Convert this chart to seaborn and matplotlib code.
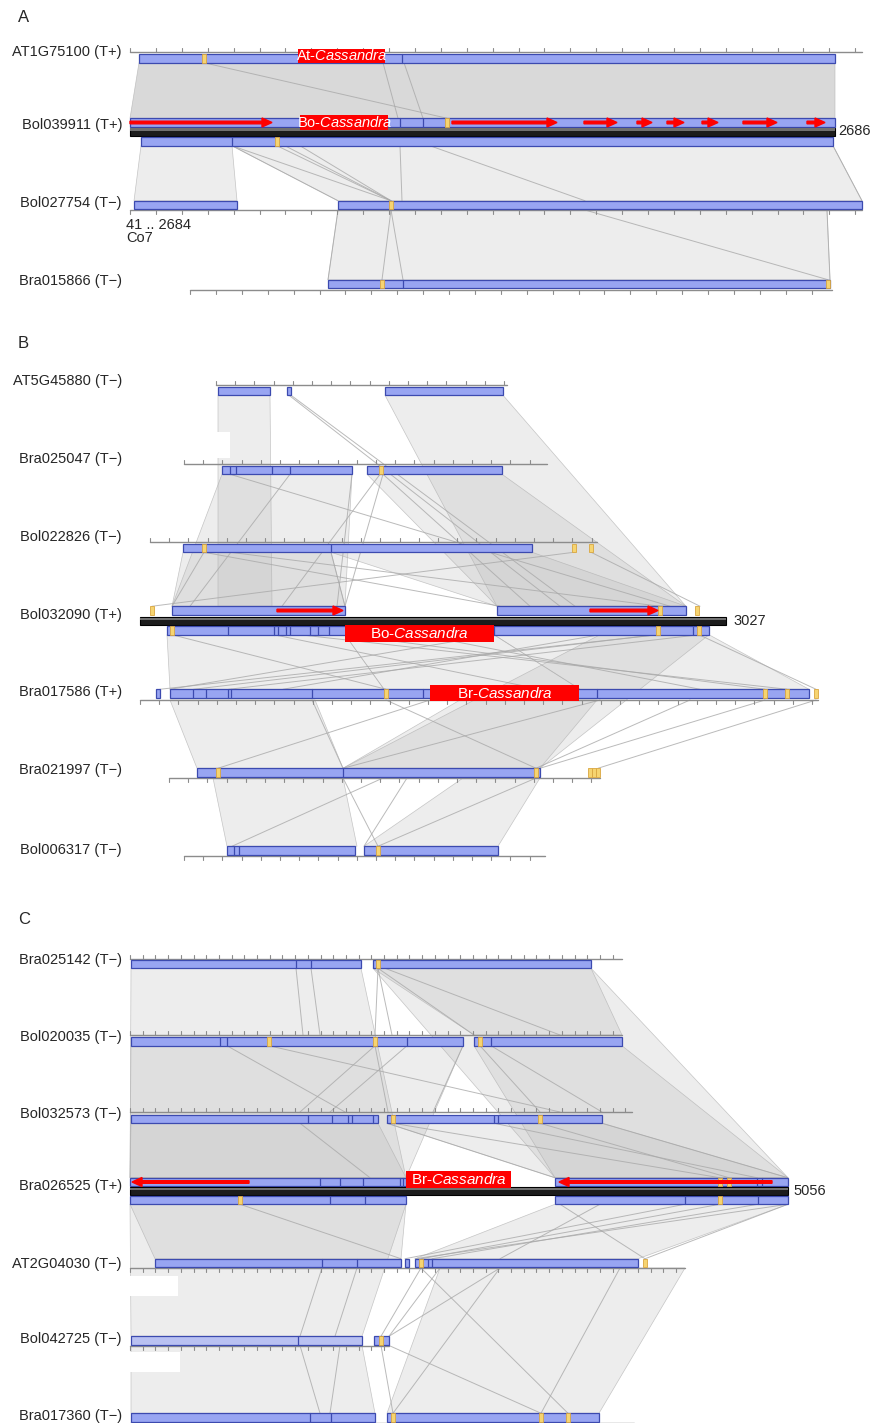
import matplotlib
matplotlib.use('Agg')
import matplotlib.pyplot as plt
from matplotlib.patches import Rectangle, Polygon
import seaborn as sns

sns.set_style('white')
plt.rcParams['font.family'] = ['Liberation Sans', 'DejaVu Sans']
plt.rcParams['mathtext.fontset'] = 'custom'
plt.rcParams['mathtext.rm'] = 'Liberation Sans'
plt.rcParams['mathtext.it'] = 'Liberation Sans:italic'

BAR = '#98a5f2'
EDGE = '#3c4aaf'
YEL = '#f6d470'
YEDGE = '#d9a640'
GRAY = '#b0b0b0'
BAR_H = 8.5

# ---------------- panel A ----------------
A_names = ['AT1G75100 (T+)', 'Bol039911 (T+)', 'Bol027754 (T\u2212)', 'Bra015866 (T\u2212)']
A_label_y = [52, 125, 203, 281]
A_bar_y = [58.5, 122.5, 205, 284]
A_rulers = [(130, 862, 52), None, (130, 862, 210), (190, 832, 290)]
A_bars = [[(139, 835)], [(130, 835)], [(134, 237), (338, 862)], [(328, 830)]]
A_dividers = [[402], [400, 423], [], [403]]
A_yellow = [[204], [447], [391], [382, 828]]
A_ref = 1
A_lower = (141.5, [(141, 833)], [232], [277])
A_black = (130, 835, 131.5)
A_arrows = [(130, 272), (452, 557), (584, 617), (637, 652), (667, 684), (702, 718), (743, 777), (807, 825)]
A_length = (838, 131, '2686')
A_tick = 25.9
A_boxes = [(298, 385, 49, 63, 'At-', 10.5), (300, 388, 115, 130, 'Bo-', 10.5)]
A_polys = [(0, 1, 139, 835, 130, 835, 4), (1, 2, 141, 232, 134, 237, 1), (1, 2, 232, 833, 338, 862, 1),
           (2, 3, 338, 827, 328, 830, 1)]
A_lines = [(0, 1, 204, 447), (0, 1, 383, 398), (0, 1, 404, 423), (1, 2, 232, 338), (1, 2, 232, 391),
           (1, 2, 277, 391), (1, 2, 285, 391), (1, 2, 300, 391), (1, 2, 400, 402), (1, 2, 430, 585),
           (1, 2, 833, 862), (2, 3, 391, 382), (2, 3, 391, 403), (2, 3, 585, 828), (2, 3, 827, 830),
           (2, 3, 338, 328)]
A_masks = []

# ---------------- panel B ----------------
B_names = ['AT5G45880 (T\u2212)', 'Bra025047 (T\u2212)', 'Bol022826 (T\u2212)', 'Bol032090 (T+)',
           'Bra017586 (T+)', 'Bra021997 (T\u2212)', 'Bol006317 (T\u2212)']
B_label_y = [381, 459, 537, 615, 692, 770, 850]
B_bar_y = [391, 470, 548, 610.5, 693.5, 772.5, 850.5]
B_rulers = [(216, 507, 385), (184, 547, 464), (150, 597, 542), None, (140, 818, 700), (169, 600, 778),
            (184, 545, 856)]
B_bars = [[(218, 270), (287, 291), (385, 503)], [(222, 352), (367, 502)], [(183, 532)],
          [(172, 345), (497, 686)], [(156, 160), (170, 809)], [(197, 540)], [(227, 355), (364, 498)]]
B_dividers = [[], [230, 236, 272, 290], [331], [], [193, 206, 228, 231, 312, 423, 597], [343], [234, 239]]
B_yellow = [[], [381], [204, 574, 591], [152, 660, 697], [386, 765, 787, 816], [218, 536, 590, 594, 598],
            [378]]
B_ref = 3
B_lower = (630.5, [(167, 709)], [228, 274, 278, 286, 290, 310, 318, 329, 494, 693], [172, 658, 699])
B_black = (140, 726, 621)
B_arrows = [(277, 343), (590, 658)]
B_length = (733, 621, '3027')
B_tick = 19.2
B_boxes = [(345, 494, 625, 642, 'Bo-', 11), (430, 579, 685, 701, 'Br-', 11)]
B_polys = [(0, 3, 218, 270, 218, 272, 1), (0, 3, 385, 503, 497, 686, 1), (1, 3, 222, 352, 172, 345, 1),
           (1, 3, 367, 502, 497, 686, 1), (2, 3, 183, 331, 172, 345, 1), (2, 3, 331, 532, 497, 686, 1),
           (3, 4, 167, 345, 170, 384, 1), (3, 4, 494, 709, 580, 809, 1), (3, 4, 345, 494, 384, 580, 1),
           (4, 5, 170, 315, 197, 343, 1), (4, 5, 460, 597, 343, 540, 1), (5, 6, 213, 343, 227, 357, 1),
           (5, 6, 463, 540, 364, 498, 1), (3, 5, 600, 709, 343, 540, 1)]
B_lines = [(0, 3, 289, 560), (0, 3, 291, 575), (1, 3, 380, 282), (1, 3, 383, 345), (1, 3, 230, 670),
           (1, 3, 290, 190), (1, 3, 352, 337), (1, 3, 383, 530), (2, 3, 574, 152), (2, 3, 591, 700),
           (2, 3, 204, 172), (2, 3, 230, 660), (2, 3, 331, 345), (2, 3, 204, 500), (3, 4, 172, 386),
           (3, 4, 658, 160), (3, 4, 699, 816), (3, 4, 345, 765), (3, 4, 300, 787), (3, 4, 656, 194),
           (3, 4, 699, 229), (3, 4, 494, 170), (3, 4, 420, 700), (3, 4, 600, 283), (3, 4, 274, 540),
           (4, 5, 430, 218), (4, 5, 386, 536), (4, 5, 765, 540), (4, 5, 816, 598), (4, 5, 600, 343),
           (4, 5, 690, 536), (4, 5, 312, 343), (5, 6, 343, 378), (5, 6, 383, 232), (5, 6, 536, 378),
           (5, 6, 407, 364)]
B_masks = [(130, 230, 432, 458)]

# ---------------- panel C ----------------
C_names = ['Bra025142 (T\u2212)', 'Bol020035 (T\u2212)', 'Bol032573 (T\u2212)', 'Bra026525 (T+)',
           'AT2G04030 (T\u2212)', 'Bol042725 (T\u2212)', 'Bra017360 (T\u2212)']
C_label_y = [960, 1037, 1114, 1186, 1264, 1339, 1416]
C_bar_y = [964, 1041.5, 1119, 1182, 1263, 1340.5, 1417.5]
C_rulers = [(130, 622, 958.5), (130, 622, 1035), (130, 632, 1112), None, (130, 685, 1268),
            (130, 389, 1345.5), (130, 634, 1422.5)]
C_bars = [[(131, 361), (373, 591)], [(131, 463), (474, 622)], [(131, 378), (387, 602)],
          [(130, 406), (555, 788)], [(155, 401), (405, 409), (415, 638)], [(131, 362), (374, 389)],
          [(131, 375), (387, 599)]]
C_dividers = [[296, 311], [220, 227, 407, 491], [308, 332, 348, 352, 373, 494, 498],
              [320, 340, 363, 400, 403, 757, 762], [322, 357, 428, 432], [298], [310, 331]]
C_yellow = [[378], [269, 375, 480], [393, 540], [720, 729], [421, 645], [381], [393, 541, 568]]
C_ref = 3
C_lower = (1200, [(130, 406), (555, 788)], [330, 365, 685, 758], [240, 720])
C_black = (130, 788, 1191)
C_arrows = [(249, 132), (772, 559)]
C_length = (793, 1191, '5056')
C_tick = 12.7
C_boxes = [(406, 511, 1171, 1188, 'Br-', 11)]
C_polys = [(0, 3, 131, 361, 130, 406, 1), (1, 3, 131, 463, 130, 406, 1), (2, 3, 131, 378, 130, 406, 1),
           (0, 1, 373, 591, 474, 622, 1), (0, 3, 373, 591, 555, 788, 1), (1, 3, 474, 622, 555, 788, 1),
           (2, 3, 387, 602, 555, 788, 1), (3, 4, 130, 406, 155, 401, 1), (3, 4, 555, 788, 415, 638, 1),
           (3, 5, 130, 406, 131, 362, 1), (5, 6, 131, 362, 131, 375, 1), (4, 6, 440, 685, 387, 599, 1)]
C_lines = [(0, 1, 296, 303), (0, 1, 311, 320), (0, 1, 378, 375), (0, 1, 378, 392), (0, 1, 378, 474),
           (0, 1, 385, 560), (1, 2, 269, 560), (1, 2, 375, 388), (1, 2, 375, 300), (1, 2, 407, 330),
           (1, 2, 480, 540), (1, 2, 491, 602), (1, 2, 227, 345), (1, 2, 463, 433), (2, 3, 393, 720),
           (2, 3, 540, 729), (2, 3, 494, 757), (2, 3, 300, 370), (2, 3, 602, 788), (2, 3, 387, 555),
           (3, 4, 720, 421), (3, 4, 788, 415), (3, 4, 758, 432), (3, 4, 685, 405), (3, 4, 560, 645),
           (3, 4, 240, 401), (3, 4, 600, 500), (3, 4, 788, 645), (4, 5, 421, 381), (4, 5, 440, 389),
           (4, 5, 500, 389), (4, 5, 322, 300), (4, 5, 357, 335), (5, 6, 381, 393), (5, 6, 389, 541),
           (5, 6, 300, 320), (5, 6, 340, 330), (4, 6, 421, 568), (4, 6, 500, 393), (4, 6, 620, 541)]
C_masks = [(130, 178, 1276, 1296), (130, 180, 1352, 1372)]

PANELS = [
    ('A', 18, A_names, A_label_y, A_bar_y, A_rulers, A_bars, A_dividers, A_yellow, A_ref, A_lower, A_black,
     A_arrows, A_length, A_tick, A_boxes, A_polys, A_lines, A_masks),
    ('B', 344, B_names, B_label_y, B_bar_y, B_rulers, B_bars, B_dividers, B_yellow, B_ref, B_lower, B_black,
     B_arrows, B_length, B_tick, B_boxes, B_polys, B_lines, B_masks),
    ('C', 920, C_names, C_label_y, C_bar_y, C_rulers, C_bars, C_dividers, C_yellow, C_ref, C_lower, C_black,
     C_arrows, C_length, C_tick, C_boxes, C_polys, C_lines, C_masks),
]

fig = plt.figure(figsize=(8.74, 14.23), dpi=100)
ax = fig.add_axes([0, 0, 1, 1])
ax.set_xlim(0, 874)
ax.set_ylim(1423, 0)
ax.axis('off')


def draw_bar(x0, x1, yc, face=BAR, z=5):
    ax.add_patch(Rectangle((x0, yc - BAR_H / 2), x1 - x0, BAR_H, facecolor=face, edgecolor=EDGE,
                           lw=0.9, zorder=z))


def draw_marks(divs, yels, yc):
    for d in divs:
        ax.plot([d, d], [yc - BAR_H / 2, yc + BAR_H / 2], color=EDGE, lw=0.9, zorder=6)
    for yx in yels:
        ax.add_patch(Rectangle((yx - 2.2, yc - BAR_H / 2), 4.4, BAR_H, facecolor=YEL, edgecolor=YEDGE,
                               lw=0.6, zorder=7))


for (letter, ly, names, label_y, bar_y, rulers, bars, divs, yels, ref, lower, black, arrows, length,
     tick, boxes, polys, lines, masks) in PANELS:
    ax.text(18, ly, letter, fontsize=12, ha='left', va='center')

    # vertical extent of every track
    tops, bots = [], []
    for i in range(len(names)):
        t = bar_y[i] - BAR_H / 2
        b = bar_y[i] + BAR_H / 2
        if rulers[i] is not None:
            t = min(t, rulers[i][2])
            b = max(b, rulers[i][2])
        if i == ref:
            b = lower[0] + BAR_H / 2
        tops.append(t)
        bots.append(b)

    # alignment connectors
    for (i, j, a0, a1, b0, b1, k) in polys:
        ya, yb = bots[i], tops[j]
        ax.add_patch(Polygon([(a0, ya), (a1, ya), (b1, yb), (b0, yb)], closed=True,
                             facecolor='#b4b4b4', alpha=0.23 * k if k < 4 else 0.5, edgecolor='none',
                             zorder=1))
        ax.add_patch(Polygon([(a0, ya), (a1, ya), (b1, yb), (b0, yb)], closed=True, fill=False,
                             edgecolor=GRAY, lw=0.5, alpha=0.7, zorder=1.5))
    for (i, j, a, b) in lines:
        ax.plot([a, b], [bots[i], tops[j]], color='#a9a9a9', lw=0.7, alpha=0.8, zorder=1.6)
    for (x0, x1, y0, y1) in masks:
        ax.add_patch(Rectangle((x0, y0), x1 - x0, y1 - y0, facecolor='white', edgecolor='none', zorder=2))

    for i, name in enumerate(names):
        ax.text(122, label_y[i], name, fontsize=10.5, ha='right', va='center', zorder=9)
        if rulers[i] is not None:
            r0, r1, ry = rulers[i]
            ax.plot([r0, r1], [ry, ry], color='#8c8c8c', lw=1.0, zorder=3)
            sgn = -1 if ry < bar_y[i] else 1
            n = int((r1 - r0) / tick) + 1
            for k in range(n):
                tx = r0 + k * tick
                ax.plot([tx, tx], [ry, ry + sgn * 4], color='#8c8c8c', lw=0.8, zorder=3)
        face = '#b9c1f2' if name.startswith('Bol042725') else BAR
        for (x0, x1) in bars[i]:
            draw_bar(x0, x1, bar_y[i], face=face if (x1 - x0) > 100 else BAR)
        draw_marks(divs[i], yels[i], bar_y[i])

    # reference sequence: black bar, lower bars and TE arrows
    bx0, bx1, byc = black
    ax.add_patch(Rectangle((bx0, byc - 4), bx1 - bx0, 8, facecolor='#1c1c1c', edgecolor='black', lw=0.8,
                           zorder=5))
    ax.add_patch(Rectangle((bx0, byc - 3.5), bx1 - bx0, 2.5, facecolor='#707070', edgecolor='none',
                           zorder=5.5))
    ly_, lbars, ldivs, lyels = lower
    for (x0, x1) in lbars:
        draw_bar(x0, x1, ly_)
    draw_marks(ldivs, lyels, ly_)
    ax.text(length[0], length[1], length[2], fontsize=10.5, ha='left', va='center')
    for (x0, x1) in arrows:
        ax.arrow(x0, bar_y[ref], x1 - x0, 0, width=2.6, head_width=9, head_length=10,
                 length_includes_head=True, color='#ff0000', zorder=8)

    for (x0, x1, y0, y1, prefix, fs) in boxes:
        ax.add_patch(Rectangle((x0, y0), x1 - x0, y1 - y0, facecolor='#ff0000', edgecolor='none', zorder=8))
        ax.text((x0 + x1) / 2, (y0 + y1) / 2, prefix + r'$\it{Cassandra}$', color='white', fontsize=fs,
                ha='center', va='center', zorder=9)

ax.text(126, 225, '41 .. 2684', fontsize=10.5, ha='left', va='center')
ax.text(126, 238, 'Co7', fontsize=10.5, ha='left', va='center')

fig.savefig('out.png', dpi=100)
